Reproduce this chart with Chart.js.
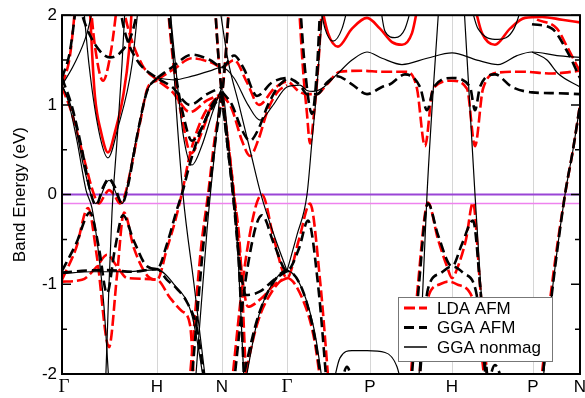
<!DOCTYPE html>
<html><head><meta charset="utf-8">
<script src="https://cdn.jsdelivr.net/npm/chart.js@4/dist/chart.umd.min.js"></script>
<style>html,body{margin:0;padding:0;background:#fff}#wrap{width:585px;height:398px;position:relative}</style>
</head><body><div id="wrap"><canvas id="c" width="585" height="398"></canvas></div>
<script>
// ---- data ----
const kPositions = [0, 95, 160, 225, 308, 390, 471, 518];
const kLabels = ['Γ', 'H', 'N', 'Γ', 'P', 'H', 'P', 'N'];
const yTicks = [-2, -1, 0, 1, 2];
const fermiLevels = [0, -0.1];
const seriesNames = ['LDA AFM', 'GGA AFM', 'GGA nonmag'];

// LDA AFM bands: [k, E(eV)]
const ldaAfmBands = [
  [[0,1.2],[10,0.9],[22,0.4],[32,0.0],[37,-0.1],[43,0.0],[47,0.05],[52,0.0],[58,-0.1],[63,0.0],[70,0.35],[78,0.8],[86,1.2],[95,1.27]],
  [[0,-0.95],[14,-0.6],[26,-0.15],[35,-0.7],[47,-1.7],[55,-0.9],[62,-0.2],[72,-0.6],[85,-0.9],[95,-0.95],[105,-0.6],[113,-0.3],[120,0.02],[128,0.45],[140,0.85],[152,1.05],[160,1.1]],
  [[0,-0.97],[20,-0.95],[35,-0.8],[45,-0.67],[55,-0.8],[65,-0.93],[95,-0.95],[108,-1.15],[120,-1.3],[128,-1.45],[133,-2.3]],
  [[27,2.3],[33,1.65],[41,1.27],[49,1.6],[57,2.3]],
  [[0,1.22],[8,1.55],[15,2.3]],
  [[27,2.3],[30,1.6],[33,1.09],[39,0.7],[46,0.47],[53,0.7],[61,1.09],[67,1.6],[71,2.3]],
  [[58,2.3],[65,1.9],[80,1.45],[95,1.28],[110,1.15],[128,0.92],[145,1.05],[160,1.12]],
  [[95,1.28],[112,1.4],[130,1.52],[150,1.47],[160,1.42],[172,1.5],[185,1.25],[197,1.0],[212,1.18],[225,1.26],[237,1.15],[245,1.12],[255,1.12],[265,1.23],[278,1.37],[300,1.38],[320,1.37],[345,1.37],[355,1.18],[363,0.54],[371,1.18],[390,1.27],[405,1.18],[413,0.54],[421,1.18],[436,1.36],[460,1.37],[490,1.35],[518,1.38]],
  [[104,2.3],[112,1.4],[120,0.85],[129,0.46],[140,0.7],[150,1.0],[160,1.12]],
  [[126,-2.3],[139,-0.6],[146,0.0],[153,0.65],[160,1.12],[164,1.6],[168,2.3]],
  [[152,2.3],[156,1.6],[160,1.12],[166,0.6],[172,0.0],[178,-0.6],[185,-2.3]],
  [[160,1.1],[166,0.6],[172,0.0],[178,-0.7],[186,-1.25],[200,-1.15],[213,-1.0],[225,-0.93]],
  [[160,1.12],[170,0.95],[180,0.6],[188,0.43],[196,0.6],[206,0.95],[216,1.15],[225,1.22]],
  [[168,-2.3],[184,-0.7],[200,0.0],[212,-0.5],[225,-0.93],[237,-0.5],[248,-0.1],[258,-0.95],[268,-2.3]],
  [[178,-2.3],[195,-1.45],[210,-1.08],[225,-0.93],[240,-1.15],[252,-1.6],[261,-2.3]],
  [[236,2.3],[241,1.4],[245,0.9],[248,0.57],[252,0.9],[256,1.4],[261,2.3]],
  [[256,2.3],[266,1.8],[276,1.65],[290,1.85],[305,1.97],[318,1.85],[330,1.7],[340,1.67],[350,1.8],[358,2.2],[384,2.6],[410,2.2],[420,1.8],[433,1.67],[448,1.85],[463,1.97],[480,1.98],[500,1.95],[518,1.92]],
  [[347,-2.3],[356,-1.0],[366,-0.09],[376,-0.5],[385,-0.8],[390,-0.93],[396,-0.8],[404,-0.5],[411,-0.09],[418,-1.0],[427,-2.3]],
  [[355,-2.3],[366,-1.15],[378,-1.0],[386,-0.97],[395,-1.0],[412,-1.2],[425,-2.3]],
  [[477,-2.3],[490,-1.0],[503,0.0],[511,0.5],[518,1.0]],
  [[475,1.95],[495,1.85],[505,1.65],[512,1.5],[518,1.37]]
];

// GGA AFM bands
const ggaAfmBands = [
  [[0,1.3],[10,0.98],[20,0.5],[28,0.05],[34,-0.12],[41,0.08],[47,0.18],[53,0.08],[60,-0.1],[66,0.1],[75,0.65],[85,1.15],[95,1.3]],
  [[0,-0.85],[14,-0.55],[28,-0.2],[37,-0.6],[45,-1.1],[53,-0.6],[61,-0.23],[72,-0.52],[85,-0.8],[95,-0.83],[105,-0.55],[114,-0.2],[121,0.05],[128,0.35],[140,0.75],[152,1.0],[160,1.1]],
  [[0,-0.87],[20,-0.85],[45,-0.84],[70,-0.86],[95,-0.83],[105,-0.95],[115,-1.05],[125,-1.2],[135,-1.5],[145,-2.3]],
  [[0,1.3],[8,1.6],[16,2.3]],
  [[12,2.3],[25,1.85],[38,1.6],[48,1.53],[58,1.58],[70,1.8],[80,2.3]],
  [[55,2.3],[62,1.85],[75,1.5],[95,1.3],[110,1.2],[128,1.0],[145,1.12],[160,1.2]],
  [[95,1.3],[110,1.42],[130,1.56],[148,1.5],[160,1.42],[172,1.55],[182,1.4],[195,1.1],[210,1.25],[225,1.3],[238,1.22],[245,1.12],[255,1.12],[265,1.25],[275,1.32],[290,1.23],[305,1.12],[320,1.2],[328,1.23],[343,1.34],[358,1.2],[365,0.94],[372,1.2],[390,1.3],[408,1.2],[413,0.94],[418,1.2],[433,1.34],[450,1.2],[470,1.14],[495,1.13],[518,1.12]],
  [[104,2.3],[113,1.4],[121,0.9],[130,0.6],[140,0.75],[150,1.0],[160,1.15]],
  [[128,-2.3],[141,-0.6],[147,0.0],[154,0.65],[160,1.1],[164,1.6],[168,2.3]],
  [[152,2.3],[156,1.6],[160,1.1],[165,0.6],[171,0.0],[176,-0.6],[183,-2.3]],
  [[160,1.1],[165,0.6],[171,0.0],[177,-0.7],[184,-1.12],[198,-1.08],[212,-0.95],[225,-0.85]],
  [[160,1.15],[170,1.0],[180,0.72],[188,0.6],[196,0.72],[206,1.0],[216,1.2],[225,1.3]],
  [[170,-2.3],[185,-0.85],[200,-0.23],[212,-0.55],[225,-0.85],[237,-0.6],[246,-0.29],[256,-1.0],[266,-2.3]],
  [[176,-2.3],[195,-1.4],[210,-1.0],[225,-0.85],[240,-1.05],[252,-1.55],[262,-2.3]],
  [[237,2.3],[243,1.4],[250,0.9],[255,1.4],[259,2.3]],
  [[276,-2.3],[285,-1.92],[294,-2.3]],
  [[348,-2.3],[357,-1.0],[366,-0.1],[376,-0.45],[390,-0.8],[400,-0.55],[411,-0.29],[418,-1.0],[427,-2.3]],
  [[356,-2.3],[366,-1.05],[378,-0.88],[390,-0.8],[402,-0.88],[414,-1.08],[426,-2.3]],
  [[423,-2.3],[433,-1.9],[445,-2.3]],
  [[478,-2.3],[491,-1.0],[503,0.0],[511,0.5],[518,1.0]],
  [[470,1.9],[490,1.85],[505,1.6],[518,1.3]]
];

// GGA nonmagnetic bands
const ggaNonmagBands = [
  [[0,1.22],[6,1.05],[15,0.6],[24,0.05],[30,-0.15],[36,-0.6],[42,-1.25],[48,-2.3]],
  [[0,1.22],[10,0.95],[22,0.3],[34,-0.1],[47,0.16],[60,-0.1],[72,0.5],[85,1.15],[95,1.3]],
  [[20,2.3],[27,1.45],[37,0.7],[46,0.41],[56,0.75],[70,1.45],[78,2.3]],
  [[43,-2.3],[47,-1.0],[50,-0.2],[55,0.6],[60,1.45],[64,2.3]],
  [[0,-0.88],[30,-0.86],[60,-0.86],[95,-0.84],[112,-1.0],[130,-1.35],[145,-2.3]],
  [[0,1.22],[12,1.45],[25,1.8],[35,2.3]],
  [[107,2.3],[114,1.0],[121,0.0],[132,-1.0],[146,-2.3]],
  [[106,2.3],[113,1.5],[121,0.68],[130,0.33],[140,0.55],[150,0.9],[160,1.2]],
  [[132,-2.3],[145,-0.4],[152,0.4],[160,1.18],[167,0.5],[174,-0.3],[183,-2.3]],
  [[95,1.3],[112,1.28],[130,1.32],[148,1.38],[160,1.42],[172,1.3],[186,1.0],[198,0.83],[210,0.98],[225,1.2],[238,1.22],[245,1.16],[251,1.15],[262,1.2],[275,1.34],[290,1.5],[305,1.59],[320,1.52],[340,1.45],[365,1.52],[390,1.58],[415,1.5],[436,1.45],[455,1.55],[470,1.59],[495,1.55],[518,1.53]],
  [[155,2.3],[166,1.5],[177,1.0],[188,0.5],[199,0.0],[212,-0.45],[225,-0.85]],
  [[225,-0.85],[235,-0.45],[245,0.0],[250,0.6],[255,1.2],[262,2.3]],
  [[180,-2.3],[196,-1.38],[210,-1.0],[225,-0.85],[240,-1.05],[253,-1.55],[263,-2.3]],
  [[268,-2.3],[278,-1.82],[290,-1.74],[305,-1.74],[323,-1.76],[335,-1.92],[343,-2.3]],
  [[255,2.3],[263,1.85],[271,1.71],[280,1.85],[290,2.3]],
  [[316,2.3],[323,1.82],[333,1.75],[343,1.85],[354,2.3]],
  [[405,2.3],[416,1.85],[436,1.73],[452,1.85],[465,2.3]],
  [[356,-2.3],[365,0.0],[378,2.3]],
  [[401,2.3],[413,0.0],[426,-2.3]],
  [[479,-2.3],[491,-1.0],[503,0.0],[511,0.5],[518,1.0]],
  [[470,1.59],[485,1.5],[496,1.35],[518,1.2]]
];

// ---- styles ----
const ldaSolidIdx = [5, 16];
const RED = '#ff0000', BLACK = '#000000';
const FONT = '"Liberation Sans", Arial, Helvetica, sans-serif';
const SERIF = '"Liberation Serif", "DejaVu Serif", serif';

function mk(band, color, width, dash) {
  return {
    data: band.map(([k, e]) => ({x: k, y: e})),
    borderColor: color, borderWidth: width, borderDash: dash,
    pointRadius: 0, fill: false, cubicInterpolationMode: 'monotone', clip: 0
  };
}
const datasets = [];
ggaNonmagBands.forEach(b => datasets.push(mk(b, BLACK, 1.2, [])));
ggaAfmBands.forEach(b => datasets.push(mk(b, BLACK, 2.6, [10, 5])));
ldaAfmBands.forEach((b, i) => datasets.push(mk(b, RED, 2.6, ldaSolidIdx.includes(i) ? [] : [11, 4])));
const fermiColors = ['#9a45d6', '#ee82ee'];
fermiLevels.forEach((f, i) => datasets.push({
  data: [{x: kPositions[0], y: f}, {x: kPositions[kPositions.length - 1], y: f}],
  borderColor: fermiColors[i], borderWidth: i === 0 ? 2 : 1.5, pointRadius: 0, fill: false, clip: 0
}));

const legendStyles = [
  {color: RED, width: 3, dash: [11, 4]},
  {color: BLACK, width: 3, dash: [10, 5]},
  {color: BLACK, width: 1.5, dash: []}
];

const framePlugin = {
  id: 'frame',
  afterDatasetsDraw(chart) {
    const {ctx, chartArea: a, scales: {x, y}} = chart;
    ctx.save();
    ctx.strokeStyle = '#000';
    ctx.lineWidth = 1.5;
    ctx.setLineDash([]);
    const minor = [];
    for (let i = 0; i < yTicks.length - 1; i++) minor.push((yTicks[i] + yTicks[i + 1]) / 2);
    const drawTick = (v, len) => {
      const py = y.getPixelForValue(v);
      ctx.beginPath();
      ctx.moveTo(a.left, py); ctx.lineTo(a.left + len, py);
      ctx.moveTo(a.right, py); ctx.lineTo(a.right - len, py);
      ctx.stroke();
    };
    yTicks.forEach(v => drawTick(v, 9));
    minor.forEach(v => drawTick(v, 5));
    ctx.lineWidth = 2;
    ctx.strokeRect(a.left, a.top, a.right - a.left, a.bottom - a.top);
    // x labels
    ctx.fillStyle = '#000';
    ctx.textAlign = 'center';
    ctx.textBaseline = 'middle';
    kPositions.forEach((k, i) => {
      ctx.font = (kLabels[i] === 'Γ' ? '19px ' + SERIF : '17px ' + FONT);
      ctx.fillText(kLabels[i], x.getPixelForValue(k) + (i === 0 ? 2 : 0), a.bottom + 13);
    });
    // legend
    const lx = 398, ly = 297, lw = 154, lh = 64;
    ctx.fillStyle = '#fff';
    ctx.fillRect(lx, ly, lw, lh);
    ctx.strokeStyle = '#777';
    ctx.lineWidth = 1;
    ctx.strokeRect(lx + 0.5, ly + 0.5, lw, lh);
    ctx.font = '17px ' + FONT;
    ctx.textAlign = 'left';
    seriesNames.forEach((n, i) => {
      const cy = ly + 11 + i * 19.5;
      const s = legendStyles[i];
      ctx.strokeStyle = s.color; ctx.lineWidth = s.width; ctx.setLineDash(s.dash);
      ctx.beginPath(); ctx.moveTo(lx + 6, cy); ctx.lineTo(lx + 29, cy); ctx.stroke();
      ctx.setLineDash([]);
      ctx.fillStyle = '#000';
      ctx.fillText(n, lx + 39, cy + 1);
    });
    ctx.restore();
  }
};

Chart.defaults.font.family = FONT;
new Chart(document.getElementById('c'), {
  type: 'line',
  data: {datasets},
  options: {
    responsive: false, animation: false, devicePixelRatio: 1,
    layout: {padding: {left: 0, right: 5, top: 11, bottom: 0}},
    plugins: {legend: {display: false}, tooltip: {enabled: false}},
    scales: {
      x: {
        type: 'linear', min: 0, max: 518,
        afterBuildTicks: s => { s.ticks = kPositions.map(v => ({value: v})); },
        afterFit: s => { s.height = 24; },
        ticks: {display: false},
        grid: {color: '#d6d6d6', lineWidth: 1, drawTicks: false},
        border: {display: false}
      },
      y: {
        type: 'linear', min: -2, max: 2,
        afterBuildTicks: s => { s.ticks = yTicks.map(v => ({value: v})); },
        afterFit: s => { s.width = 62; },
        ticks: {color: '#000', font: {size: 17}, padding: 5, callback: v => String(v)},
        grid: {display: false, drawTicks: false},
        border: {display: false},
        title: {display: true, text: 'Band Energy (eV)', color: '#000', font: {size: 17}, padding: {top: 10, bottom: 0}}
      }
    }
  },
  plugins: [framePlugin]
});
</script></body></html>
